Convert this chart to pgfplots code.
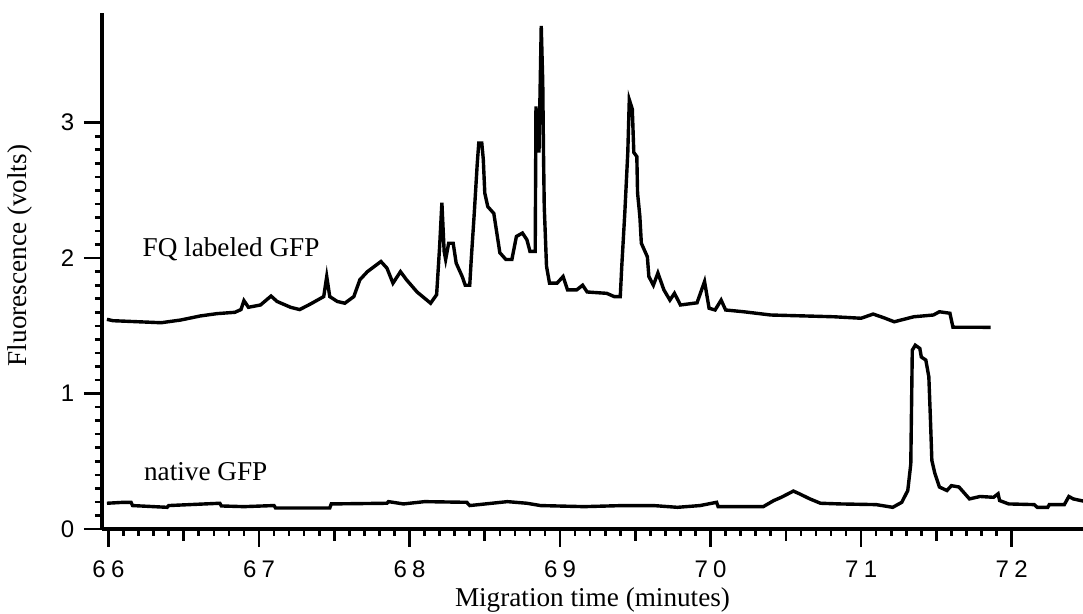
\documentclass[border=0pt]{standalone}
\usepackage{fontspec}
\setmainfont{Liberation Serif}
\newfontfamily\helv{Liberation Sans}
\usepackage{pgfplots}
\pgfplotsset{compat=1.18}

% traces (minutes, volts)
\pgfplotstableread{
t v
65.99 1.548
66.03 1.538
66.35 1.523
66.48 1.543
66.61 1.573
66.72 1.59
66.84 1.60
66.88 1.62
66.90 1.686
66.93 1.637
67.01 1.654
67.08 1.72
67.12 1.68
67.21 1.637
67.27 1.62
67.34 1.66
67.43 1.716
67.45 1.864
67.47 1.716
67.52 1.68
67.57 1.667
67.63 1.716
67.67 1.84
67.72 1.90
67.81 1.975
67.85 1.926
67.89 1.815
67.94 1.90
67.98 1.84
68.05 1.75
68.14 1.667
68.18 1.73
68.20 2.086
68.215 2.41
68.23 2.05
68.24 1.99
68.26 2.11
68.29 2.11
68.31 1.963
68.35 1.864
68.37 1.80
68.40 1.80
68.41 1.99
68.43 2.33
68.45 2.70
68.46 2.85
68.48 2.85
68.49 2.73
68.50 2.48
68.52 2.38
68.56 2.33
68.58 2.185
68.60 2.04
68.64 1.99
68.68 1.99
68.71 2.16
68.75 2.185
68.78 2.135
68.80 2.05
68.835 2.05
68.84 3.12
68.85 2.85
68.86 2.78
68.875 3.715
68.885 3.3
68.89 2.78
68.895 2.38
68.91 1.94
68.93 1.815
68.98 1.815
69.02 1.864
69.05 1.765
69.11 1.765
69.15 1.80
69.18 1.75
69.31 1.74
69.36 1.716
69.40 1.716
69.41 1.94
69.43 2.33
69.45 2.78
69.46 3.17
69.48 3.10
69.49 2.78
69.51 2.75
69.515 2.48
69.53 2.31
69.54 2.11
69.58 2.01
69.59 1.864
69.62 1.80
69.65 1.89
69.69 1.765
69.73 1.69
69.76 1.74
69.80 1.654
69.91 1.67
69.96 1.827
69.99 1.63
70.03 1.617
70.07 1.69
70.10 1.617
70.22 1.604
70.40 1.58
70.82 1.567
71.00 1.556
71.08 1.587
71.15 1.56
71.22 1.53
71.35 1.567
71.48 1.58
71.52 1.604
71.59 1.593
71.61 1.49
71.86 1.489
}\fqgfp

\pgfplotstableread{
t v
65.99 0.19
66.10 0.197
66.15 0.197
66.16 0.173
66.39 0.16
66.40 0.173
66.74 0.19
66.75 0.17
66.90 0.165
67.10 0.173
67.11 0.155
67.47 0.155
67.48 0.185
67.85 0.19
67.86 0.202
67.96 0.185
68.10 0.202
68.38 0.197
68.40 0.173
68.65 0.202
68.78 0.19
68.87 0.173
69.16 0.165
69.42 0.173
69.62 0.173
69.78 0.16
69.93 0.173
70.04 0.197
70.05 0.165
70.35 0.165
70.42 0.21
70.47 0.234
70.55 0.28
70.59 0.26
70.66 0.222
70.73 0.19
70.86 0.185
71.10 0.18
71.21 0.16
71.27 0.197
71.31 0.284
71.33 0.48
71.34 1.32
71.36 1.357
71.39 1.333
71.40 1.27
71.43 1.247
71.45 1.123
71.46 0.827
71.47 0.506
71.49 0.41
71.52 0.31
71.57 0.284
71.60 0.32
71.65 0.31
71.72 0.222
71.79 0.24
71.88 0.234
71.91 0.26
71.92 0.21
71.98 0.185
72.15 0.18
72.17 0.16
72.24 0.16
72.25 0.18
72.35 0.18
72.38 0.24
72.41 0.222
72.48 0.205
}\nativegfp

\begin{document}
\begin{tikzpicture}
\useasboundingbox (-51pt,-42.5pt) rectangle (490.5pt,264.5pt);
\begin{axis}[
  at={(0,0)}, anchor=south west,
  scale only axis, width=490.5pt, height=258pt,
  xmin=65.957, xmax=72.474, ymin=0, ymax=3.81,
  axis x line*=bottom, axis y line*=left,
  axis line style={-, line width=1.8pt},
  tick align=outside,
  tick style={line width=1.3pt, black},
  major tick length=9pt, minor tick length=3.5pt,
  xtick={66,...,72},
  xticklabels={6\hspace{0.22em}6,6\hspace{0.22em}7,6\hspace{0.22em}8,6\hspace{0.22em}9,7\hspace{0.22em}0,7\hspace{0.22em}1,7\hspace{0.22em}2},
  minor x tick num=9,
  extra x ticks={66.5,67.5,68.5,69.5,70.5,71.5},
  extra x tick labels={},
  extra x tick style={major tick length=6pt},
  ytick={0,1,2,3}, yticklabels={0,1,2,3},
  minor y tick num=9,
  x tick label style={font=\helv\fontsize{12}{14}\selectfont, yshift=-3.5pt},
  y tick label style={font=\helv\fontsize{12}{14}\selectfont, xshift=-1.3pt},
  xlabel={Migration time (minutes)},
  ylabel={Fluorescence (volts)},
  label style={font=\fontsize{13.6}{16}\selectfont},
  xlabel style={at={(axis description cs:0.5,-0.1376)}, anchor=center},
  ylabel style={at={(axis description cs:-0.0836,0.53)}, anchor=center},
]
\addplot[black, line width=1.7pt, line join=miter] table[x=t, y=v] {\fqgfp};
\addplot[black, line width=1.7pt, line join=miter] table[x=t, y=v] {\nativegfp};
\node[anchor=base west, font=\fontsize{13.6}{16}\selectfont] at (axis cs:66.18,2.01) {FQ labeled GFP};
\node[anchor=base west, font=\fontsize{13.6}{16}\selectfont] at (axis cs:66.19,0.36) {native GFP};
\end{axis}
\end{tikzpicture}
\end{document}
